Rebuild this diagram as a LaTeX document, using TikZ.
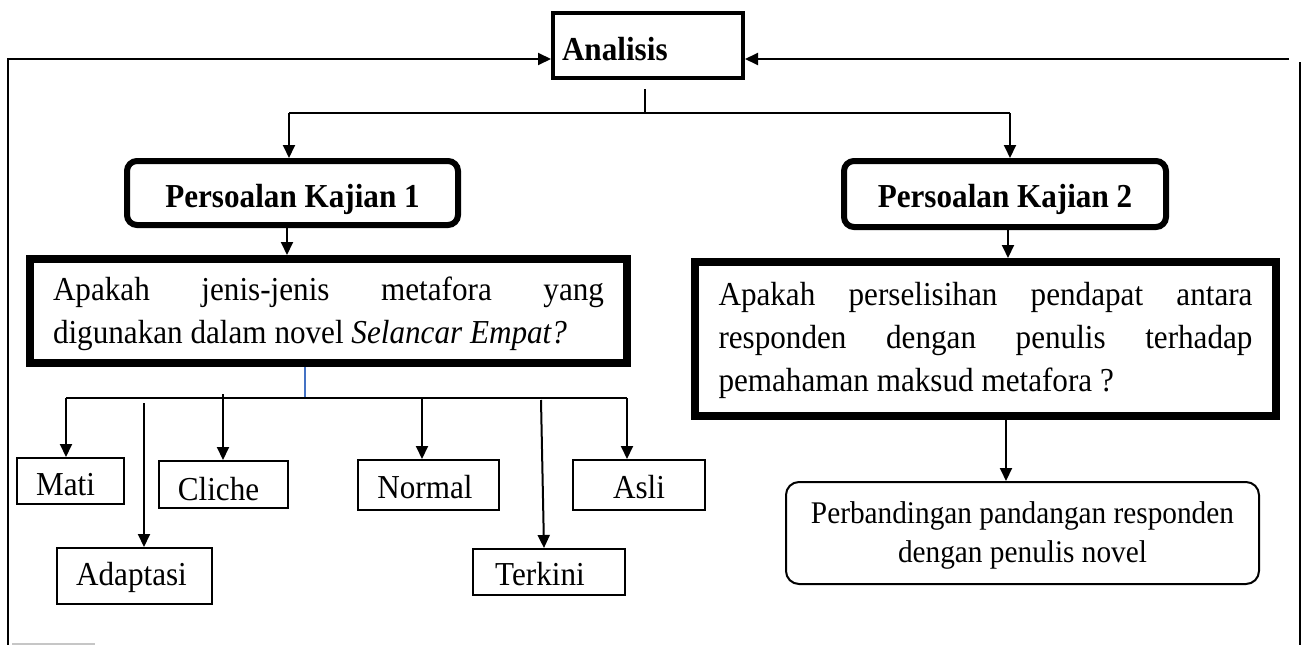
\documentclass[tikz,border=0pt]{standalone}
\usepackage{fontspec}
\setmainfont{Liberation Serif}[FakeStretch=0.93]
\usetikzlibrary{arrows.meta}
\definecolor{wblue}{RGB}{68,114,196}
\begin{document}
\begin{tikzpicture}[x=1pt,y=-1pt,
  conn/.style={line width=2pt},
  arr/.style={line width=2pt,-{Triangle[length=13pt,width=12pt]}},
  txt/.style={font=\fontsize{33.5}{43}\selectfont},
  btxt/.style={font=\fontsize{33.5}{40}\selectfont\bfseries},
  smallbox/.style={draw,line width=2pt,inner sep=0pt,txt,text depth=0pt},
  pkbox/.style={draw,line width=6pt,rounded corners=10pt,inner sep=0pt,btxt,text depth=0pt},
  qbox/.style={draw,line width=8pt,inner sep=0pt,txt},
]
\useasboundingbox (0,0) rectangle (1307,645);

% nodes
\node[draw,line width=4pt,minimum width=190pt,minimum height=65pt,inner sep=0pt,btxt,text width=172pt,align=left,text height=29pt,text depth=0pt] (ana) at (648,45.5) {Analisis};
\node[pkbox,minimum width=331pt,minimum height=64pt,text height=28pt] (pk1) at (292.5,193) {Persoalan Kajian 1};
\node[pkbox,minimum width=322pt,minimum height=66pt,text height=26pt] (pk2) at (1005,194) {Persoalan Kajian 2};
\node[qbox,minimum width=597pt,minimum height=104pt,text height=20pt,text depth=42pt] (q1) at (328.5,311)
  {\parbox[t]{551pt}{\makebox[551pt][s]{Apakah jenis-jenis metafora yang}\\digunakan dalam novel \textit{Selancar Empat?}}};
\node[qbox,minimum width=581pt,minimum height=154pt,text height=20pt,text depth=88pt] (q2) at (985.5,339)
  {\parbox[t]{534pt}{\makebox[534pt][s]{Apakah perselisihan pendapat antara}\\\makebox[534pt][s]{responden dengan penulis terhadap}\\pemahaman maksud metafora ?}};
\node[draw,line width=2pt,rounded corners=13pt,minimum width=473pt,minimum height=102pt,inner sep=0pt,font=\fontsize{31.5}{39}\selectfont,text height=20pt,text depth=40pt] (perb) at (1022.5,533)
  {\parbox[t]{460pt}{\centering Perbandingan pandangan responden\\dengan penulis novel}};
\node[smallbox,minimum width=107pt,minimum height=46pt,text height=28pt] (mati) at (70.5,481) {\kern-10pt Mati};
\node[smallbox,minimum width=129pt,minimum height=47pt,text height=31pt] (cli) at (223.5,484.5) {\kern-10pt Cliche};
\node[smallbox,minimum width=141pt,minimum height=50pt,text height=26pt] (nor) at (428.5,485) {\kern-7pt Normal};
\node[smallbox,minimum width=132pt,minimum height=50pt,text height=26pt] (asl) at (639,485) {Asli};
\node[smallbox,minimum width=155pt,minimum height=56pt,text height=18pt] (ada) at (134.5,576) {\kern-6pt Adaptasi};
\node[smallbox,minimum width=152pt,minimum height=46pt,text height=26pt] (ter) at (549,572) {\kern-18pt Terkini};

% frame
\coordinate (fbl) at (8,645);
\coordinate (ay) at (0,59);
\coordinate (fr) at (1289,59);
\coordinate (frt) at (1300,62);
\coordinate (frb) at (1300,645);
\coordinate (g1) at (12,644);
\coordinate (g2) at (95,644);
\draw[arr] (fbl) |- (ana.west |- ay);
\draw[arr] (fr) -- (ana.east |- ay);
\draw[conn] (frt) -- (frb);
\draw[line width=2pt,gray!45] (g1) -- (g2);

% analisis to kajian
\coordinate (anab) at (645,89);
\coordinate (busL) at (289,113);
\coordinate (busR) at (1010,113);
\draw[conn] (anab) -- (anab |- busL);
\draw[conn] (busL) -- (busR);
\draw[arr] (busL) -- (busL |- pk1.north);
\draw[arr] (busR) -- (busR |- pk2.north);

% kajian to questions
\coordinate (p1x) at (287,0);
\coordinate (p2x) at (1008,0);
\coordinate (p3x) at (1006,0);
\draw[arr] (pk1.south -| p1x) -- (q1.north -| p1x);
\draw[arr] (pk2.south -| p2x) -- (q2.north -| p2x);
\draw[arr] (q2.south -| p3x) -- (perb.north -| p3x);

% metafora types
\coordinate (bt) at (305,367);
\coordinate (bl) at (305,398);
\draw[line width=1.3pt,wblue] (bt) -- (bl);
\coordinate (b2L) at (66,398);
\coordinate (b2R) at (627,398);
\draw[conn] (b2L) -- (b2R);
\draw[arr] (b2L) -- (b2L |- mati.north);
\coordinate (ad0) at (144,403);
\draw[arr] (ad0) -- (ad0 |- ada.north);
\coordinate (cl0) at (223,394);
\draw[arr] (cl0) -- (cl0 |- cli.north);
\coordinate (no0) at (422,398);
\draw[arr] (no0) -- (no0 |- nor.north);
\coordinate (te0) at (541,400);
\coordinate (te1) at (544,600);
\draw[arr] (te0) -- (te1 |- ter.north);
\draw[arr] (b2R) -- (b2R |- asl.north);
\end{tikzpicture}
\end{document}
